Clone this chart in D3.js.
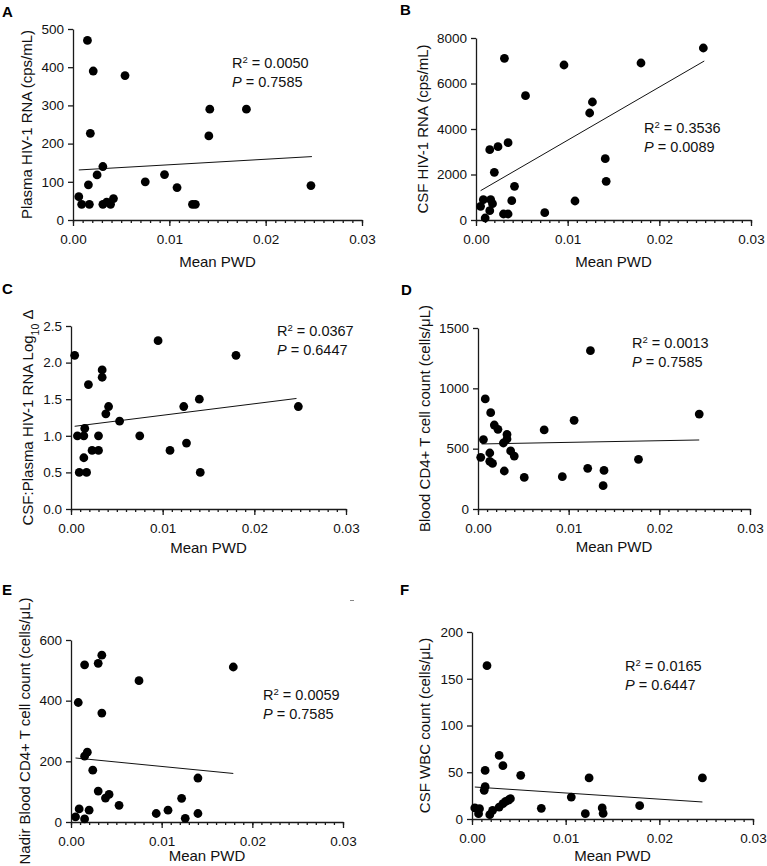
<!DOCTYPE html>
<html>
<head>
<meta charset="utf-8">
<script src="https://cdn.jsdelivr.net/npm/d3@7"></script>
<style>
  html, body { margin: 0; padding: 0; background: #fff; }
  svg { display: block; font-family: "Liberation Sans", Arial, sans-serif; }
</style>
</head>
<body>
<svg id="chart" width="767" height="866"></svg>
<script>
// ---------- DATA ----------
const xTickValues = [0, 0.01, 0.02, 0.03];
const xTickLabels = ["0.00", "0.01", "0.02", "0.03"];

// Panel A: Plasma HIV-1 RNA
const aX = [0.0006, 0.0009, 0.0015, 0.0017, 0.0016, 0.0018, 0.0021, 0.0025, 0.0031, 0.0031, 0.0035, 0.0039, 0.0042, 0.0054, 0.0075, 0.0095, 0.0108, 0.0124, 0.0127, 0.0141, 0.0142, 0.0180, 0.0247];
const aY = [61, 41, 470, 41, 92, 227, 390, 118, 140, 41, 47, 41, 56, 378, 100, 119, 85, 41, 41, 220, 290, 290, 90];
const aTicks = [0, 100, 200, 300, 400, 500];
const aFit = { x: [0.0006, 0.0248], y: [131, 166] };

// Panel B: CSF HIV-1 RNA
const bX = [0.0005, 0.0008, 0.0010, 0.0015, 0.0016, 0.0015, 0.0018, 0.0020, 0.0024, 0.0031, 0.0030, 0.0035, 0.0035, 0.0039, 0.0042, 0.0054, 0.0075, 0.0096, 0.0108, 0.0124, 0.0127, 0.0141, 0.0142, 0.0180, 0.0248];
const bY = [600, 894, 88, 3092, 894, 410, 718, 2095, 3223, 7106, 264, 264, 3400, 850, 1480, 5465, 322, 6813, 835, 4703, 5187, 2696, 1700, 6901, 7560];
const bTicks = [0, 2000, 4000, 6000, 8000];
const bFit = { x: [0.0005, 0.0249], y: [1289, 6989] };

// Panel C: CSF:Plasma HIV-1 RNA Log10 delta
const cX = [0.0004, 0.0007, 0.0009, 0.0014, 0.0015, 0.0014, 0.0017, 0.0019, 0.0023, 0.0030, 0.0030, 0.0034, 0.0034, 0.0038, 0.0041, 0.0053, 0.0075, 0.0095, 0.0108, 0.0123, 0.0126, 0.0140, 0.0141, 0.0180, 0.0248];
const cY = [2.1, 1.0, 0.5, 1.0, 1.1, 0.7, 0.5, 1.7, 0.8, 0.8, 1.0, 1.9, 1.8, 1.3, 1.4, 1.2, 1.0, 2.3, 0.8, 1.4, 0.9, 1.5, 0.5, 2.1, 1.4];
const cTicks = [0, 0.5, 1.0, 1.5, 2.0, 2.5];
const cFit = { x: [0.0004, 0.0246], y: [1.13, 1.51] };

// Panel D: Blood CD4+ T cell count
const dX = [0.0003, 0.0006, 0.0008, 0.0013, 0.0014, 0.0013, 0.0016, 0.0018, 0.0022, 0.0028, 0.0029, 0.0032, 0.0032, 0.0036, 0.0040, 0.0051, 0.0073, 0.0093, 0.0106, 0.0121, 0.0124, 0.0139, 0.0138, 0.0177, 0.0244];
const dY = [428, 575, 912, 464, 798, 395, 378, 696, 660, 547, 315, 618, 580, 481, 439, 262, 655, 268, 735, 337, 1312, 320, 193, 412, 787];
const dTicks = [0, 500, 1000, 1500];
const dFit = { x: [0.0004, 0.0244], y: [539, 572] };

// Panel E: Nadir Blood CD4+ T cell count
const eX = [0.0005, 0.0009, 0.0008, 0.0015, 0.0015, 0.0015, 0.0018, 0.0020, 0.0024, 0.0030, 0.0030, 0.0034, 0.0034, 0.0038, 0.0042, 0.0053, 0.0075, 0.0094, 0.0107, 0.0122, 0.0126, 0.0140, 0.0140, 0.0179];
const eY = [17, 43, 394, 518, 10, 217, 230, 39, 171, 523, 102, 550, 359, 79, 91, 55, 466, 28, 39, 78, 12, 145, 28, 511];
const eTicks = [0, 200, 400, 600];
const eFit = { x: [0.0005, 0.0179], y: [211, 160] };

// Panel F: CSF WBC count
const fX = [0.0003, 0.0008, 0.0007, 0.0014, 0.0014, 0.0013, 0.0016, 0.0019, 0.0022, 0.0029, 0.0029, 0.0033, 0.0033, 0.0036, 0.0039, 0.0041, 0.0052, 0.0074, 0.0106, 0.0121, 0.0125, 0.0139, 0.0140, 0.0179, 0.0246];
const fY = [11.8, 11, 5.7, 52, 34.6, 30.7, 164, 4.6, 9.3, 68, 12.8, 16.4, 57, 18.9, 20.3, 21.7, 46.7, 11.4, 23.5, 5.7, 43.9, 11.8, 6, 14.3, 43.9];
const fTicks = [0, 50, 100, 150, 200];
const fFit = { x: [0.0003, 0.0246], y: [34.2, 18.2] };

const letters = ["A", "B", "C", "D", "E", "F"];
const r2Labels = ["0.0050", "0.3536", "0.0367", "0.0013", "0.0059", "0.0165"];
const pLabels = ["0.7585", "0.0089", "0.6447", "0.7585", "0.7585", "0.6447"];

// ---------- LAYOUT ----------
const panels = [
  { xs: aX, ys: aY, ticks: aTicks, fit: aFit, fmt: d => d, title: [["Plasma HIV-1 RNA (cps/mL)"]],
    x0: 73, x1: 362, yb: 220, yt: 29, lx: 2, ly: 12, tx: 27, tlY: 240, mpY: 262, ax: 232, ay: 63 },
  { xs: bX, ys: bY, ticks: bTicks, fit: bFit, fmt: d => d, title: [["CSF HIV-1 RNA (cps/mL)"]],
    x0: 476, x1: 751, yb: 220, yt: 38, lx: 400, ly: 10, tx: 423, tlY: 240, mpY: 262, ax: 644, ay: 128 },
  { xs: cX, ys: cY, ticks: cTicks, fit: cFit, fmt: d3.format(".1f"), title: [["CSF:Plasma HIV-1 RNA Log"], ["10", "sub"], [" Δ"]],
    x0: 71, x1: 346, yb: 509, yt: 326, lx: 2, ly: 289, tx: 28, tlY: 528, mpY: 548, ax: 277, ay: 331 },
  { xs: dX, ys: dY, ticks: dTicks, fit: dFit, fmt: d => d, title: [["Blood CD4+ T cell count (cells/μL)"]],
    x0: 478, x1: 750, yb: 509, yt: 328, lx: 401, ly: 290, tx: 425, tlY: 528, mpY: 547, ax: 632, ay: 343 },
  { xs: eX, ys: eY, ticks: eTicks, fit: eFit, fmt: d => d, title: [["Nadir Blood CD4+ T cell count (cells/μL)"]],
    x0: 71, x1: 343, yb: 822, yt: 640, lx: 2, ly: 590, tx: 25, tlY: 839, mpY: 856, ax: 263, ay: 695 },
  { xs: fX, ys: fY, ticks: fTicks, fit: fFit, fmt: d => d, title: [["CSF WBC count (cells/μL)"]],
    x0: 472, x1: 753, yb: 819, yt: 632, lx: 400, ly: 590, tx: 425, tlY: 837, mpY: 856, ax: 625, ay: 666 }
];

const svg = d3.select("#chart");
const axisColor = "#1a1a1a";
const minorTicks = d3.range(0, 31).map(i => i / 1000);

panels.forEach((p, i) => {
  const x = d3.scaleLinear().domain([0, 0.03]).range([p.x0, p.x1]);
  const yMax = p.ticks[p.ticks.length - 1];
  const y = d3.scaleLinear().domain([0, yMax]).range([p.yb, p.yt]);
  const g = svg.append("g");

  // minor x ticks
  const gMinor = g.append("g").attr("transform", `translate(0,${p.yb})`)
    .call(d3.axisBottom(x).tickValues(minorTicks).tickSize(3).tickFormat(""));
  gMinor.select(".domain").remove();
  // major x axis
  const gx = g.append("g").attr("transform", `translate(0,${p.yb})`)
    .call(d3.axisBottom(x).tickValues(xTickValues).tickSizeInner(6).tickSizeOuter(0).tickPadding(8)
      .tickFormat((d, k) => xTickLabels[k]));
  // y axis
  const gy = g.append("g").attr("transform", `translate(${p.x0},0)`)
    .call(d3.axisLeft(y).tickValues(p.ticks).tickSizeInner(5).tickSizeOuter(0).tickPadding(4).tickFormat(p.fmt));

  [gMinor, gx, gy].forEach(ax => {
    ax.selectAll("path,line").attr("stroke", axisColor).attr("stroke-width", 1.3);
    ax.selectAll("text").attr("fill", "#111").style("font-size", "13.5px")
      .style("font-family", "'Liberation Sans', Arial, sans-serif");
  });

  // regression line
  g.append("line")
    .attr("x1", x(p.fit.x[0])).attr("y1", y(p.fit.y[0]))
    .attr("x2", x(p.fit.x[1])).attr("y2", y(p.fit.y[1]))
    .attr("stroke", "#111").attr("stroke-width", 1);

  // points
  g.selectAll("circle.pt").data(p.xs.map((xv, k) => [xv, p.ys[k]])).enter()
    .append("circle").attr("class", "pt")
    .attr("cx", d => x(d[0])).attr("cy", d => y(d[1])).attr("r", 4.4)
    .attr("fill", "#000");

  // panel letter
  svg.append("text").attr("x", p.lx).attr("y", p.ly).attr("dy", "0.36em")
    .style("font-size", "15px").style("font-weight", "bold").attr("fill", "#000")
    .text(letters[i]);

  // x title
  svg.append("text").attr("x", (p.x0 + p.x1) / 2).attr("y", p.mpY).attr("dy", "0.36em")
    .attr("text-anchor", "middle").style("font-size", "15px").attr("fill", "#111")
    .text("Mean PWD");

  // y title
  const yt = svg.append("text")
    .attr("transform", `translate(${p.tx},${(p.yt + p.yb) / 2}) rotate(-90)`)
    .attr("text-anchor", "middle").attr("dy", "0.36em")
    .style("font-size", "15px").attr("fill", "#111");
  p.title.forEach(part => {
    const t = yt.append("tspan").text(part[0]);
    if (part[1] === "sub") { t.attr("baseline-shift", "sub").style("font-size", "10.5px"); }
  });

  // annotations
  const r2 = svg.append("text").attr("x", p.ax).attr("y", p.ay).attr("dy", "0.36em")
    .style("font-size", "14.5px").attr("fill", "#111");
  r2.append("tspan").text("R");
  r2.append("tspan").attr("baseline-shift", "super").style("font-size", "9.5px").text("2");
  r2.append("tspan").text(" = " + r2Labels[i]);
  const pt = svg.append("text").attr("x", p.ax).attr("y", p.ay + 19).attr("dy", "0.36em")
    .style("font-size", "14.5px").attr("fill", "#111");
  pt.append("tspan").style("font-style", "italic").text("P");
  pt.append("tspan").text(" = " + pLabels[i]);
});

// small stray mark present in the original figure (near panel E, top right)
svg.append("line").attr("x1", 350).attr("x2", 354).attr("y1", 600.5).attr("y2", 600.5)
  .attr("stroke", "#888").attr("stroke-width", 1);
</script>
</body>
</html>
